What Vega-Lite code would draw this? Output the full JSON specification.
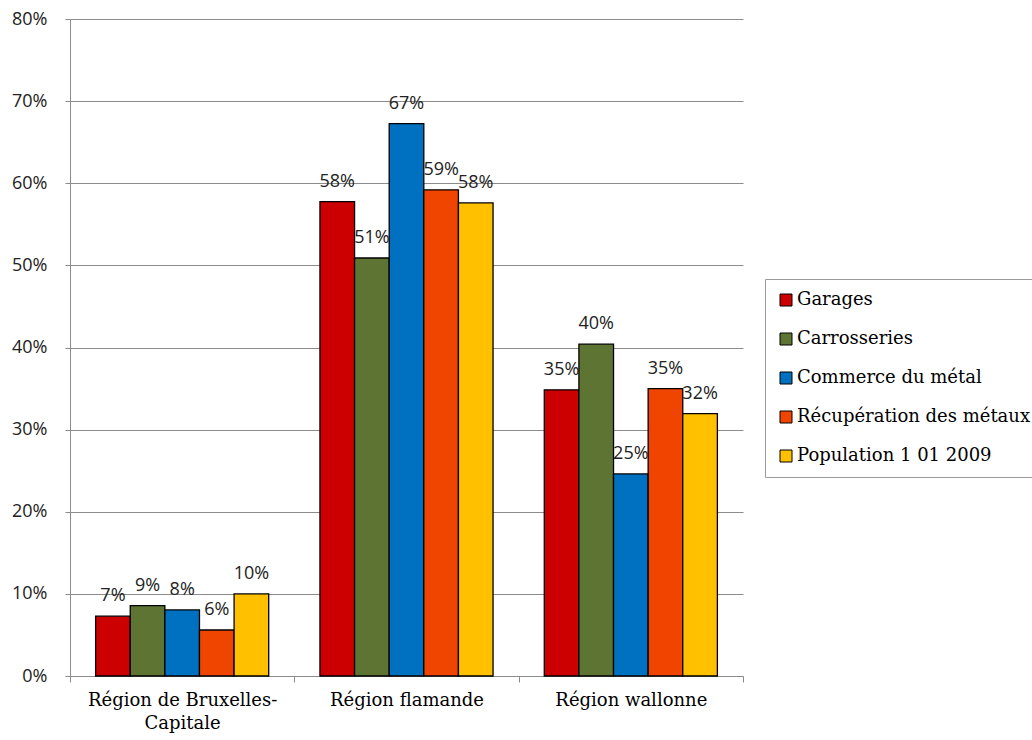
{
  "$schema": "https://vega.github.io/schema/vega-lite/v6.json",
  "width": 673,
  "height": 657,
  "autosize": "none",
  "padding": {"left": 70, "top": 19, "right": 289, "bottom": 64},
  "background": "white",
  "config": {"view": {"stroke": null}},
  "data": {
    "values": [
      {"region": "Région de Bruxelles-Capitale", "serie": "Garages", "value": 0.0728},
      {"region": "Région de Bruxelles-Capitale", "serie": "Carrosseries", "value": 0.0857},
      {"region": "Région de Bruxelles-Capitale", "serie": "Commerce du métal", "value": 0.0805},
      {"region": "Région de Bruxelles-Capitale", "serie": "Récupération des métaux", "value": 0.056},
      {"region": "Région de Bruxelles-Capitale", "serie": "Population 1 01 2009", "value": 0.1},
      {"region": "Région flamande", "serie": "Garages", "value": 0.5776},
      {"region": "Région flamande", "serie": "Carrosseries", "value": 0.509},
      {"region": "Région flamande", "serie": "Commerce du métal", "value": 0.6727},
      {"region": "Région flamande", "serie": "Récupération des métaux", "value": 0.592},
      {"region": "Région flamande", "serie": "Population 1 01 2009", "value": 0.576},
      {"region": "Région wallonne", "serie": "Garages", "value": 0.3485},
      {"region": "Région wallonne", "serie": "Carrosseries", "value": 0.404},
      {"region": "Région wallonne", "serie": "Commerce du métal", "value": 0.246},
      {"region": "Région wallonne", "serie": "Récupération des métaux", "value": 0.35},
      {"region": "Région wallonne", "serie": "Population 1 01 2009", "value": 0.3196}
    ]
  },
  "encoding": {
    "x": {
      "field": "region",
      "type": "nominal",
      "sort": ["Région de Bruxelles-Capitale", "Région flamande", "Région wallonne"],
      "scale": {"paddingInner": 0, "paddingOuter": 0},
      "axis": {
        "title": null,
        "labelAngle": 0,
        "tickBand": "extent",
        "domainColor": "#8c8c8c",
        "tickColor": "#8c8c8c",
        "tickSize": 6,
        "labelFont": "DejaVu Serif",
        "labelFontSize": 18,
        "labelColor": "#000000",
        "labelPadding": 9,
        "labelLineHeight": 23,
        "labelLimit": 300,
        "labelExpr": "datum.label == 'Région de Bruxelles-Capitale' ? ['Région de Bruxelles-', 'Capitale'] : datum.label"
      }
    },
    "xOffset": {
      "field": "serie",
      "type": "nominal",
      "sort": ["Garages", "Carrosseries", "Commerce du métal", "Récupération des métaux", "Population 1 01 2009"],
      "scale": {"paddingInner": 0, "paddingOuter": 0.74}
    },
    "y": {
      "field": "value",
      "type": "quantitative",
      "scale": {"domain": [0, 0.8], "nice": false},
      "axis": {
        "title": null,
        "values": [0, 0.1, 0.2, 0.3, 0.4, 0.5, 0.6, 0.7, 0.8],
        "format": ".0%",
        "grid": true,
        "gridColor": "#8c8c8c",
        "gridOpacity": 1,
        "domainColor": "#8c8c8c",
        "tickColor": "#8c8c8c",
        "tickSize": 5,
        "labelPadding": 18,
        "labelFont": "Open Sans",
        "labelFontSize": 18,
        "labelColor": "#222222"
      }
    }
  },
  "layer": [
    {
      "mark": {"type": "bar", "stroke": "#000000", "strokeWidth": 1.3},
      "encoding": {
        "color": {
          "field": "serie",
          "type": "nominal",
          "scale": {
            "domain": ["Garages", "Carrosseries", "Commerce du métal", "Récupération des métaux", "Population 1 01 2009"],
            "range": ["#cc0000", "#5e7433", "#0070c0", "#ef4500", "#ffc000"]
          },
          "legend": {
            "orient": "none",
            "legendX": 695,
            "legendY": 260,
            "title": null,
            "strokeColor": "#9a9a9a",
            "fillColor": "white",
            "padding": 12,
            "symbolType": "square",
            "symbolSize": 144,
            "symbolStrokeColor": "#000000",
            "symbolStrokeWidth": 1,
            "labelFont": "DejaVu Serif",
            "labelFontSize": 18,
            "labelColor": "#000000",
            "labelOffset": 2,
            "labelLimit": 400,
            "rowPadding": 21
          }
        }
      }
    },
    {
      "mark": {"type": "text", "baseline": "alphabetic", "dy": -15, "font": "Open Sans", "fontSize": 18, "color": "#222222"},
      "encoding": {"text": {"field": "value", "type": "quantitative", "format": ".0%"}}
    }
  ]
}
